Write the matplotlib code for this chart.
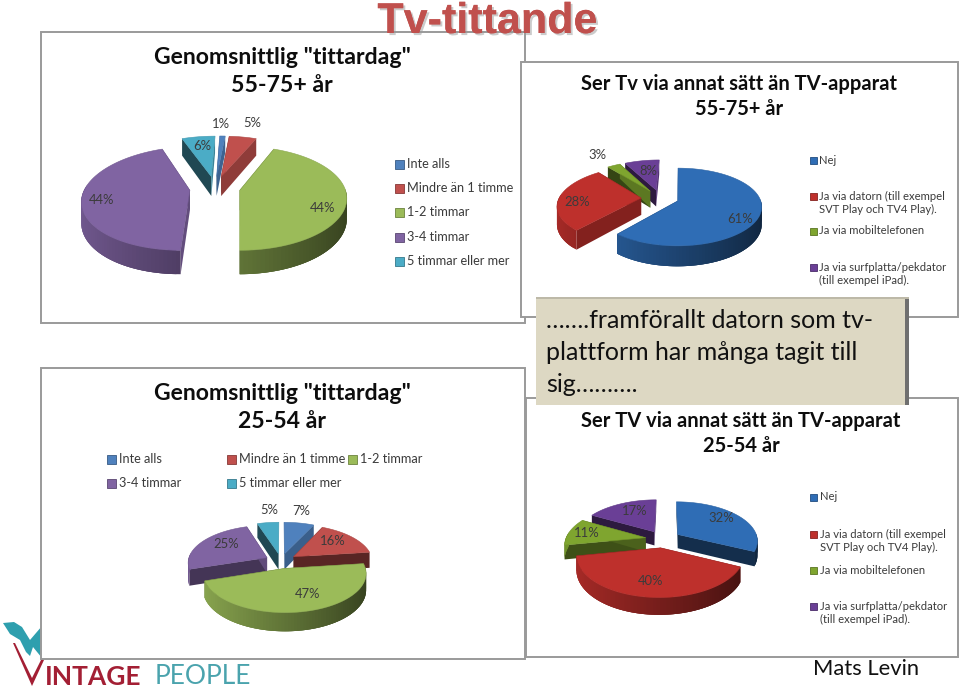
import numpy as np
import matplotlib
matplotlib.use("Agg")
import matplotlib.pyplot as plt
from matplotlib.patches import Polygon, Rectangle
import matplotlib.patheffects as pe

# ---------- data ----------
viewing_categories = ["Inte alls", "Mindre än 1 timme", "1-2 timmar", "3-4 timmar", "5 timmar eller mer"]
platform_categories = ["Nej", "Ja via datorn (till exempel\nSVT Play och TV4 Play).", "Ja via mobiltelefonen",
                       "Ja via surfplatta/pekdator\n(till exempel iPad)."]
viewing_55_75 = [1, 5, 44, 44, 6]
viewing_25_54 = [7, 16, 47, 25, 5]
platform_55_75 = [61, 28, 3, 8]
platform_25_54 = [32, 40, 11, 17]

heading = "Tv-tittande"
title_viewing_old = ['Genomsnittlig "tittardag"', '55-75+ år']
title_viewing_young = ['Genomsnittlig "tittardag"', '25-54 år']
title_platform_old = ["Ser Tv via annat sätt än TV-apparat", "55-75+ år"]
title_platform_young = ["Ser TV via annat sätt än TV-apparat", "25-54 år"]
note = ["…….framförallt datorn som tv-", "plattform har många tagit till", "sig………."]
author = "Mats Levin"

# ---------- style ----------
SOFT = ["#4F81BD", "#C0504D", "#9BBB59", "#8064A2", "#4BACC6"]
VIVID = ["#2F6DB5", "#BE302C", "#7FA52F", "#6A3F96"]
FONT = "Lato"
TXT = "#3b3b3b"

fig = plt.figure(figsize=(9.59, 6.89), dpi=100, facecolor="white")
ax = fig.add_axes([0, 0, 1, 1])
ax.set_xlim(0, 959)
ax.set_ylim(689, 0)
ax.axis("off")


def shade(c, f):
    return tuple(np.array(matplotlib.colors.to_rgb(c)) * f)


def pie3d(values, colors, cx, cy, rx, ry, depth, explode, vx, persp=0.155, z=3):
    """Exploded perspective pie: angles are clockwise from the top."""
    vals = np.asarray(values, float)
    edges = np.concatenate([[0], np.cumsum(vals) / vals.sum() * 2 * np.pi])

    def proj(u, v, d=0.0):
        s = 1 / (1 + persp * v)
        return vx + (cx - vx + rx * u) * s, cy - ry * v * s + d * s

    slices = []
    for i in range(len(vals)):
        t0, t1 = edges[i], edges[i + 1]
        mid = (t0 + t1) / 2
        slices.append((np.cos(mid), i, t0, t1, mid))
    for _, i, t0, t1, mid in sorted(slices, key=lambda r: -r[0]):
        c = colors[i]
        ou, ov = explode * np.sin(mid), explode * np.cos(mid)
        ts = np.linspace(t0, t1, max(8, int((t1 - t0) * 30)))
        us, vs = ou + np.sin(ts), ov + np.cos(ts)
        # radial walls
        for t, sign in ((t0, -1), (t1, 1)):
            nt = t + sign * np.pi / 2
            f = 0.42 + 0.35 * max(0, np.sin(nt))
            eu, ev = ou + np.sin(t), ov + np.cos(t)
            quad = [proj(ou, ov), proj(eu, ev), proj(eu, ev, depth), proj(ou, ov, depth)]
            ax.add_patch(Polygon(quad, closed=True, fc=shade(c, f), ec="none", zorder=z))
        # outer wall: overlapping strips, so that no seams show
        n = len(ts)
        for a in range(n - 1):
            b = min(a + 3, n - 1)
            tm = (ts[a] + ts[a + 1]) / 2
            if np.cos(tm) > 0.05:
                continue
            f = 0.62 - 0.27 * np.sin(tm)
            quad = [proj(us[k], vs[k]) for k in range(a, b + 1)] + \
                   [proj(us[k], vs[k], depth) for k in range(b, a - 1, -1)]
            ax.add_patch(Polygon(quad, closed=True, fc=shade(c, f), ec="none", zorder=z))
        # top face
        top = [proj(ou, ov)] + [proj(a, b) for a, b in zip(us, vs)]
        ax.add_patch(Polygon(top, closed=True, fc=c, ec=shade(c, 0.9), lw=0.4, zorder=z))


def panel(x0, y0, x1, y1, z):
    ax.add_patch(Rectangle((x0, y0), x1 - x0, y1 - y0, fc="white", ec="#9a9a9a", lw=1.4, zorder=z))


def title(lines, x, ys, size, z=6):
    for s, y in zip(lines, ys):
        ax.text(x, y, s, ha="center", va="center", family=FONT, fontweight="bold", fontsize=size,
                color="#0d0d0d", zorder=z)


def labels(vals, pos):
    for v, (x, y) in zip(vals, pos):
        ax.text(x, y, f"{v}%", ha="center", va="center", family=FONT, fontsize=9.4, color=TXT, zorder=6)


def legend(cats, cols, pos, size=9.2, box=9, gap=12):
    for name, col, (x, y) in zip(cats, cols, pos):
        multi = "\n" in name
        sy = y - 7 if multi else y
        ax.add_patch(Rectangle((x, sy - box / 2), box, box, fc=col, ec=shade(col, 0.7), lw=0.6, zorder=6))
        ax.text(x + gap, y, name, ha="left", va="center", family=FONT, fontsize=size, color=TXT,
                linespacing=1.3, zorder=6)


# ---------- logo (behind the panels) ----------
ax.add_patch(Polygon([(3, 623), (14, 622), (22, 627), (30, 640), (42, 626), (42, 658), (33, 647), (30, 656),
                      (26, 652), (20, 640), (10, 634)],
                     closed=True, fc="#2E9FAE", ec="none", zorder=1))
ax.add_patch(Polygon([(13, 643), (15, 643), (32, 678), (42, 658), (44, 660), (32, 686)],
                     closed=True, fc="#A31F34", ec="none", zorder=1))
ax.text(45, 677, "INTAGE", family=FONT, fontsize=19, fontweight="bold", color="#A31F34",
        ha="left", va="center", zorder=1)
ax.text(155, 677, "PEOPLE", family=FONT, fontsize=19, color="#4AA3AD",
        ha="left", va="center", zorder=1)

# ---------- panels ----------
panel(41, 32, 525, 323, 2)
title(title_viewing_old, 282, (58, 86), 16.6)
pie3d(viewing_55_75, SOFT, 215, 188, 105, 50, 20, 0.24, 240)
labels(viewing_55_75, [(221, 124), (252, 123), (323, 208), (102, 200), (202, 146)])
legend(viewing_categories, SOFT, [(395, 164), (395, 188), (395, 212), (395, 237), (395, 261)])

panel(41, 368, 525, 659, 2)
title(title_viewing_young, 282, (393, 422), 16.6)
pie3d(viewing_25_54, SOFT, 281, 561, 79, 37, 16, 0.2, 281, persp=0.12)
labels(viewing_25_54, [(301, 511), (333, 541), (308, 594), (226, 544), (269, 510)])
legend(viewing_categories, SOFT, [(107, 459), (227, 459), (348, 459), (107, 483), (227, 483)])

panel(521, 62, 958, 317, 3)
title(title_platform_old, 739, (84, 109), 14.5)
pie3d(platform_55_75, VIVID, 660, 198, 82, 37, 17, 0.23, 680, z=4)
labels(platform_55_75, [(740, 219), (577, 202), (597, 155), (648, 171)])
legend(platform_categories, VIVID, [(810, 160), (810, 203), (810, 231), (810, 274)], size=8.1, box=7, gap=9)

panel(526, 398, 958, 657, 3)
title(title_platform_young, 741, (421, 446), 14.5)
pie3d(platform_25_54, VIVID, 663, 539, 80, 39, 14, 0.22, 668, z=4)
labels(platform_25_54, [(721, 518), (651, 581), (587, 533), (635, 511)])
legend(platform_categories, VIVID, [(810, 497), (810, 541), (810, 570), (810, 613)], size=8.1, box=7, gap=10)

# ---------- note box ----------
ax.add_patch(Rectangle((536, 298), 373, 107, fc="#DDD8C3", ec="none", zorder=7))
ax.add_patch(Rectangle((905, 298), 4, 107, fc="#6f6f6f", ec="none", zorder=7))
ax.add_patch(Rectangle((536, 297), 373, 2, fc="#bdb9a8", ec="none", zorder=7))
for i, line in enumerate(note):
    ax.text(546, 320 + 32 * i, line, family=FONT, fontsize=18, color="#111111", ha="left", va="center", zorder=8)

# ---------- heading and author ----------
ax.text(487, 33, heading, ha="center", va="baseline", family="Liberation Sans", fontweight="bold",
        fontsize=31, color="#C0504D", zorder=9,
        path_effects=[pe.withSimplePatchShadow(offset=(1.5, -1.5), shadow_rgbFace="#999999", alpha=0.5), pe.Normal()])
ax.text(813, 669, author, ha="left", va="center", family=FONT, fontsize=15.8, color="#111111", zorder=9)

fig.savefig("out.png", dpi=100)
